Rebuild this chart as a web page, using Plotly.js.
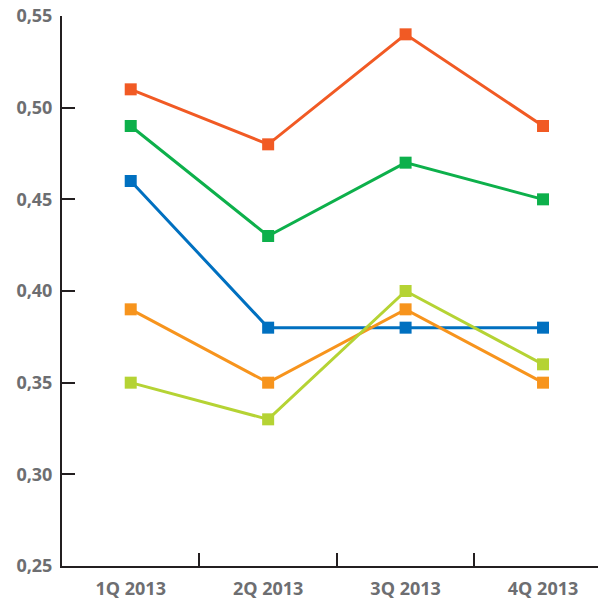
<!DOCTYPE html>
<html><head><meta charset="utf-8">
<script src="https://cdn.plot.ly/plotly-3.0.1.min.js"></script>
<style>html,body{margin:0;padding:0;background:#fff}</style>
</head><body><div id="chart" style="width:598px;height:601px"></div>
<script>
var categories = ["1Q 2013", "2Q 2013", "3Q 2013", "4Q 2013"];
var seriesBlue = [0.46, 0.38, 0.38, 0.38];
var seriesRed = [0.51, 0.48, 0.54, 0.49];
var seriesGreen = [0.49, 0.43, 0.47, 0.45];
var seriesOrange = [0.39, 0.35, 0.39, 0.35];
var seriesLime = [0.35, 0.33, 0.40, 0.36];
var yTicks = [0.25, 0.30, 0.35, 0.40, 0.45, 0.50, 0.55];

function tr(y, color) {
  return {x: categories, y: y, type: "scatter", mode: "lines+markers",
    line: {color: color, width: 3}, marker: {symbol: "square", size: 12, color: color},
    hoverinfo: "none"};
}
var data = [tr(seriesBlue, "#0070c0"), tr(seriesRed, "#f15a24"), tr(seriesGreen, "#0db04b"),
            tr(seriesOrange, "#f7941d"), tr(seriesLime, "#b5d334")];
var tickFont = {family: "Open Sans", size: 18, color: "#6d6e71", weight: "bold"};
var layout = {
  width: 598, height: 601, showlegend: false, separators: ",.",
  margin: {l: 62, r: 0, t: 16, b: 35},
  paper_bgcolor: "#fff", plot_bgcolor: "#fff",
  xaxis: {type: "category", range: [-0.5, 3.4], tickson: "boundaries", ticks: "inside",
    ticklen: 13, tickwidth: 2, tickcolor: "#231f20", showgrid: false, zeroline: false,
    showline: true, linecolor: "#231f20", linewidth: 2, tickfont: tickFont,
    ticklabelstandoff: 5, fixedrange: true},
  yaxis: {range: [0.25, 0.55], tickvals: yTicks, tickformat: ".2f", ticks: "inside",
    ticklen: 13, tickwidth: 2, tickcolor: "#231f20", showgrid: false, zeroline: false,
    showline: true, linecolor: "#231f20", linewidth: 2, tickfont: tickFont,
    ticklabelstandoff: 4, fixedrange: true}
};
Plotly.newPlot("chart", data, layout, {staticPlot: true});
</script></body></html>
